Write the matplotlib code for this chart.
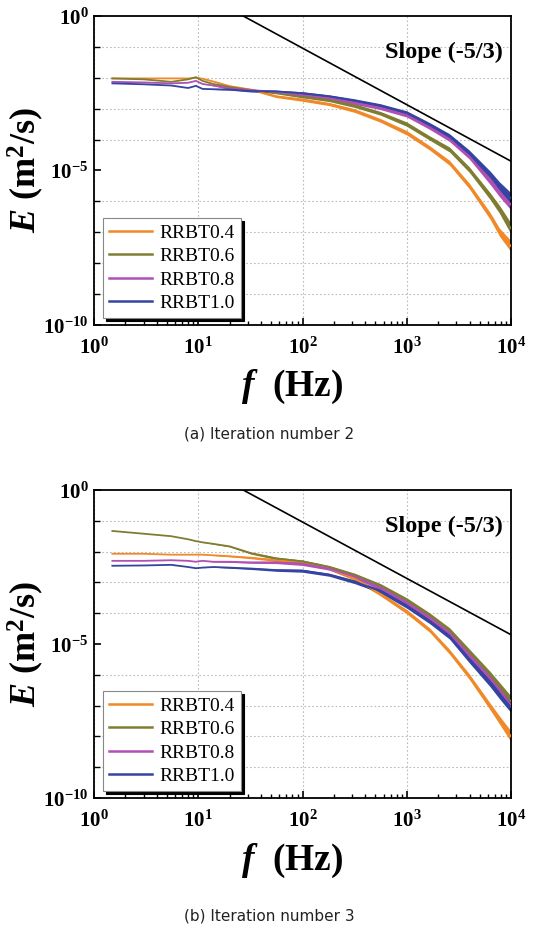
import numpy as np
import matplotlib
matplotlib.use("Agg")
import matplotlib.pyplot as plt
from matplotlib.ticker import FixedLocator, NullFormatter, FuncFormatter

plt.rcParams['mathtext.fontset'] = 'custom'
plt.rcParams['mathtext.rm'] = 'Liberation Serif:bold'
plt.rcParams['mathtext.it'] = 'Liberation Serif:bold:italic'
plt.rcParams['mathtext.bf'] = 'Liberation Serif:bold'

# ---------------- data ----------------
freq_hz = [1.5, 3, 5.5, 8, 9.5, 11, 14, 20, 32, 56, 100, 180, 316, 560,
           1000, 1660, 2570, 3980, 6310, 7760, 10000]

series_names = ["RRBT0.4", "RRBT0.6", "RRBT0.8", "RRBT1.0"]
series_colors = ["#F08A28", "#7E7E32", "#B050B4", "#3444A0"]

# (a) iteration number 2 : log10 E
a_rrbt04 = [-2.02, -2.02, -2.02, -2.02, -2.00, -2.03, -2.12, -2.27, -2.38, -2.60,
            -2.71, -2.85, -3.06, -3.38, -3.78, -4.27, -4.75, -5.50, -6.47, -7.00, -7.45]
a_rrbt06 = [-2.02, -2.05, -2.13, -2.05, -1.98, -2.10, -2.20, -2.30, -2.40, -2.48,
            -2.60, -2.72, -2.90, -3.15, -3.50, -3.95, -4.32, -4.97, -5.83, -6.26, -6.88]
a_rrbt08 = [-2.13, -2.15, -2.18, -2.16, -2.10, -2.20, -2.25, -2.35, -2.40, -2.45,
            -2.56, -2.65, -2.80, -2.97, -3.20, -3.60, -3.98, -4.54, -5.34, -5.72, -6.10]
a_rrbt10 = [-2.18, -2.21, -2.25, -2.33, -2.26, -2.36, -2.37, -2.38, -2.43, -2.44,
            -2.50, -2.60, -2.74, -2.90, -3.14, -3.52, -3.89, -4.43, -5.13, -5.50, -5.90]

# (b) iteration number 3 : log10 E
b_rrbt04 = [-2.07, -2.07, -2.10, -2.10, -2.10, -2.10, -2.12, -2.15, -2.20, -2.28,
            -2.33, -2.55, -2.87, -3.38, -3.95, -4.55, -5.25, -6.06, -7.03, -7.47, -8.00]
b_rrbt06 = [-1.33, -1.42, -1.50, -1.60, -1.66, -1.70, -1.75, -1.83, -2.05, -2.22,
            -2.32, -2.50, -2.76, -3.10, -3.57, -4.06, -4.55, -5.25, -6.00, -6.38, -6.87]
b_rrbt08 = [-2.30, -2.30, -2.28, -2.30, -2.33, -2.30, -2.33, -2.33, -2.35, -2.35,
            -2.40, -2.55, -2.81, -3.18, -3.67, -4.16, -4.65, -5.36, -6.12, -6.50, -6.98]
b_rrbt10 = [-2.46, -2.45, -2.43, -2.50, -2.54, -2.52, -2.50, -2.52, -2.55, -2.60,
            -2.62, -2.75, -2.98, -3.28, -3.77, -4.27, -4.76, -5.52, -6.28, -6.65, -7.05]

# half width of the noisy band (decades)
noise_halfwidth = [0.0, 0.0, 0.0, 0.0, 0.0, 0.0, 0.01, 0.02, 0.03, 0.04,
                   0.05, 0.05, 0.06, 0.06, 0.07, 0.07, 0.08, 0.09, 0.11, 0.13, 0.18]

# reference line labelled slope (-5/3)
slope_f = [27, 10000]
slope_E = [1.0, 2.0e-5]

panels = [
    ("(a) Iteration number 2", [a_rrbt04, a_rrbt06, a_rrbt08, a_rrbt10]),
    ("(b) Iteration number 3", [b_rrbt04, b_rrbt06, b_rrbt08, b_rrbt10]),
]

# ---------------- figure ----------------
W, H = 534, 930
fig = plt.figure(figsize=(W / 100, H / 100), dpi=100)

ax_boxes = [(94, 16, 511, 325), (94, 490, 511, 798)]
caption_y = [434, 916]

f = np.array(freq_hz, dtype=float)
nw = np.array(noise_halfwidth)

def fmt(v, pos):
    e = int(round(np.log10(v)))
    return r"$10^{%d}$" % e

for (caption, series), (l, t, r, b), cy in zip(panels, ax_boxes, caption_y):
    ax = fig.add_axes([l / W, 1 - b / H, (r - l) / W, (b - t) / H])
    ax.set_xscale('log')
    ax.set_yscale('log')
    ax.set_xlim(1, 1e4)
    ax.set_ylim(1e-10, 1)

    for name, col, vals in zip(series_names, series_colors, series):
        lv = np.array(vals)
        ax.fill_between(f, 10 ** (lv - nw), 10 ** (lv + nw), color=col,
                        lw=0, zorder=2)
        ax.plot(f, 10 ** lv, color=col, lw=1.3, label=name, zorder=3)

    ax.plot(slope_f, slope_E, color='black', lw=1.2, zorder=4)
    ax.text(0.981, 0.881, "Slope (-5/3)", transform=ax.transAxes,
            ha='right', va='center', fontsize=17.5, fontweight='bold',
            family='Liberation Serif')

    # ticks
    ax.yaxis.set_major_locator(FixedLocator([1e-10, 1e-5, 1]))
    ax.yaxis.set_minor_locator(FixedLocator([10.0 ** k for k in range(-10, 1)]))
    ax.xaxis.set_major_locator(FixedLocator([1, 10, 100, 1000, 10000]))
    ax.xaxis.set_minor_locator(FixedLocator(
        [m * 10.0 ** k for k in range(0, 4) for m in range(2, 10)]))
    ax.xaxis.set_major_formatter(FuncFormatter(fmt))
    ax.yaxis.set_major_formatter(FuncFormatter(fmt))
    ax.xaxis.set_minor_formatter(NullFormatter())
    ax.yaxis.set_minor_formatter(NullFormatter())
    ax.tick_params(which='both', direction='in', top=False, right=False)
    ax.tick_params(which='major', length=5, width=1.2, labelsize=15)
    ax.tick_params(axis='x', which='major', pad=8)
    ax.tick_params(axis='y', which='major', pad=4)
    ax.tick_params(which='minor', length=3, width=1.0)
    ax.tick_params(axis='y', which='minor', length=4)

    ax.grid(True, which='major', axis='x', color='#BBBBBB', ls=(0, (1.5, 2)), lw=0.8)
    ax.grid(True, which='minor', axis='y', color='#BBBBBB', ls=(0, (1.5, 2)), lw=0.8)
    ax.set_axisbelow(True)
    for s in ax.spines.values():
        s.set_linewidth(1.3)
        s.set_color('black')

    ax.set_xlabel(r"$f$  (Hz)", fontsize=27, fontweight='bold',
                  family='Liberation Serif')
    ax.xaxis.set_label_coords((292 - l) / (r - l), 1 - 352 / (b - t))
    ax.set_ylabel(r"$E$ (m$^2$/s)", fontsize=26, fontweight='bold',
                  family='Liberation Serif')
    ax.yaxis.set_label_coords((46 - l) / (r - l), 0.5)

    leg = ax.legend(loc='lower left', bbox_to_anchor=(0.022, 0.023),
                    prop={'family': 'Liberation Serif', 'size': 14},
                    handlelength=2.2, handletextpad=0.4, labelspacing=0.3,
                    borderpad=0.3, borderaxespad=0.0, fancybox=False,
                    framealpha=1, edgecolor='#888888',
                    shadow={'color': 'black', 'alpha': 1})
    leg.get_frame().set_linewidth(0.8)
    for ln in leg.get_lines():
        ln.set_linewidth(1.8)

    fig.text(269 / W, 1 - cy / H, caption, ha='center', va='center',
             fontsize=11, family='DejaVu Sans', color='#222222')

fig.savefig("out.png", dpi=100)
